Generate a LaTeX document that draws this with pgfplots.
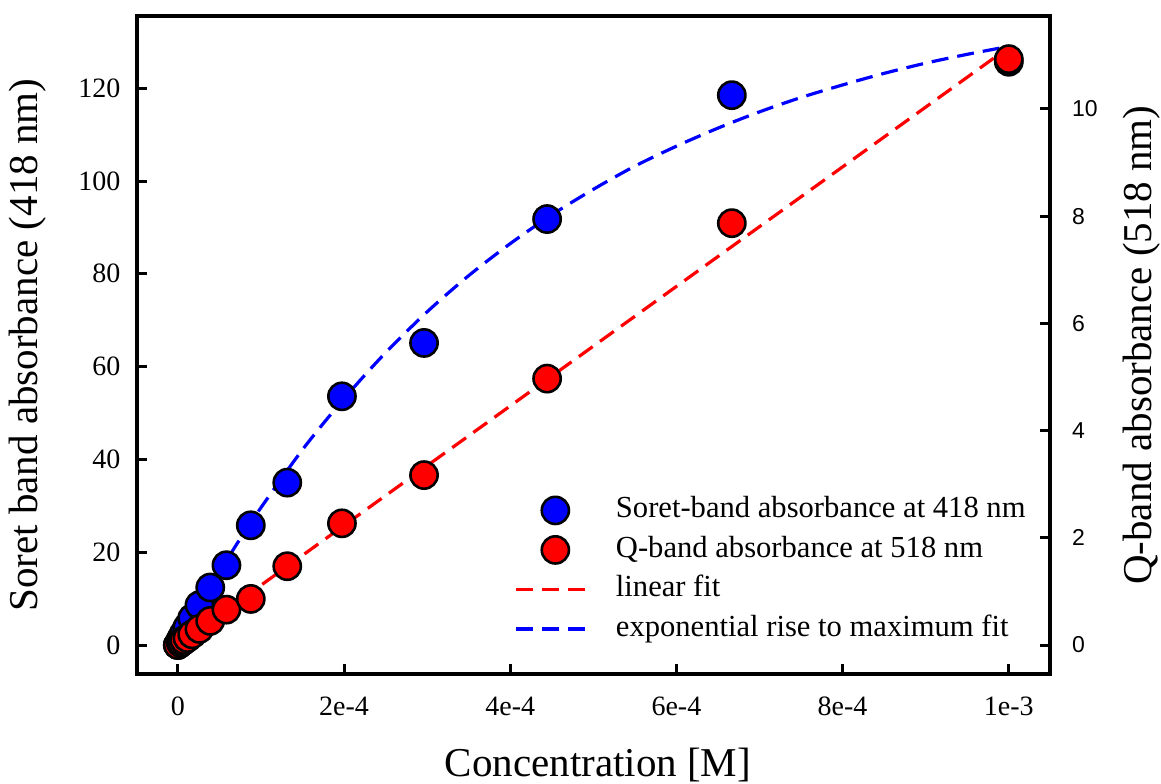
\documentclass[border=0pt]{standalone}
\usepackage{fontspec}
\setmainfont{Liberation Serif}
\newfontfamily\sansf{Liberation Sans}
\usepackage{pgfplots}
\usepackage{pgfplotstable}
\pgfplotsset{compat=1.18}

% Soret band absorbance (left axis)
\pgfplotstableread{
x y
0 0
3.4e-6 1.1
5.1e-6 1.7
7.7e-6 2.6
1.16e-5 3.9
1.73e-5 5.8
2.6e-5 8.6
3.9e-5 12.4
5.85e-5 17.2
8.78e-5 25.8
1.317e-4 35.0
1.975e-4 53.6
2.963e-4 65.1
4.444e-4 91.8
6.667e-4 118.5
1e-3 125.7
}\soret

% Q-band absorbance (right axis units)
\pgfplotstableread{
x q
0 0
3.4e-6 0.04
5.1e-6 0.06
7.7e-6 0.09
1.16e-5 0.13
1.73e-5 0.20
2.6e-5 0.30
3.9e-5 0.45
5.85e-5 0.66
8.78e-5 0.86
1.317e-4 1.47
1.975e-4 2.27
2.963e-4 3.17
4.444e-4 4.97
6.667e-4 7.87
1e-3 10.93
}\qband

% linear fit (right axis units)
\pgfplotstableread{
x q
0 0
1e-3 11.15
}\linfit

% exponential rise to maximum fit (left axis units)
\pgfplotstableread{
x y
0 0
1e-5 3.3
2.5e-5 8.1
5e-5 15.7
7.5e-5 22.9
1e-4 29.6
1.5e-4 42.1
2e-4 53.1
2.5e-4 63.0
3e-4 71.8
3.5e-4 79.6
4e-4 86.5
4.5e-4 92.7
5e-4 98.2
5.5e-4 103.2
6e-4 107.5
6.5e-4 111.4
7e-4 114.9
7.5e-4 118.0
8e-4 120.7
8.5e-4 123.2
9e-4 125.4
9.5e-4 127.3
1e-3 129.0
}\expfit

\def\qscale{11.552}

\begin{document}
\begin{tikzpicture}
\begin{axis}[name=ax,
  scale only axis, width=456.65pt, height=329.15pt,
  xmin=-4.95e-5, xmax=1.0496e-3, ymin=-6.31, ymax=135.56,
  axis line style={line width=2pt},
  tick align=inside, xtick pos=lower, ytick pos=left,
  major tick length=5pt,
  every tick/.style={line width=1.5pt, black},
  scaled x ticks=false,
  xtick={0,2e-4,4e-4,6e-4,8e-4,1e-3},
  xticklabels={0,2e-4,4e-4,6e-4,8e-4,1e-3},
  ytick={0,20,40,60,80,100,120},
  /pgf/number format/assume math mode=true,
  yticklabel style={font=\fontsize{14}{16}\selectfont, xshift=-4.6pt},
  xticklabel style={font=\fontsize{14}{16}\selectfont, yshift=-8pt},
  xlabel={Concentration [M]},
  ylabel={Soret band absorbance (418 nm)},
  every axis x label/.style={at={(axis description cs:0.505,-0.138)}, anchor=center, font=\fontsize{20.5}{24}\selectfont},
  every axis y label/.style={at={(axis description cs:-0.119,0.5)}, rotate=90, anchor=center, font=\fontsize{20.5}{24}\selectfont},
  legend image code/.code={\draw[mark repeat=2,mark phase=2,#1] plot coordinates {(0pt,0pt) (19.5pt,0pt) (35pt,0pt)};},
  legend style={draw=none, fill=none, at={(rel axis cs:0.4135,0.2716)}, anchor=north west,
    font=\fontsize{15.3}{18}\selectfont, inner sep=0pt, row sep=5.25pt,
    nodes={inner sep=0pt, text height=11pt, text depth=3.5pt},
    /tikz/every odd column/.append style={column sep=14pt}},
  legend cell align=left,
  clip=false,
]
\addplot[only marks, mark=*, mark size=6.8pt, mark options={fill=blue, draw=black, line width=1.3pt}]
  table[x=x, y=y] {\soret};
\addlegendentry{Soret-band absorbance at 418 nm}
\addplot[only marks, mark=*, mark size=6.8pt, mark options={fill=red, draw=black, line width=1.3pt}]
  table[x=x, y expr=\thisrow{q}*\qscale] {\qband};
\addlegendentry{Q-band absorbance at 518 nm}
\addplot[red, line width=1.6pt, dash pattern=on 8.5pt off 4.5pt, no marks]
  table[x=x, y expr=\thisrow{q}*\qscale] {\linfit};
\addlegendentry{linear fit}
\addplot[blue, line width=1.6pt, dash pattern=on 8.5pt off 4.5pt, no marks, smooth]
  table[x=x, y=y] {\expfit};
\addlegendentry{exponential rise to maximum fit}
\end{axis}
\begin{axis}[
  scale only axis, width=456.65pt, height=329.15pt,
  xmin=-4.95e-5, xmax=1.0496e-3, ymin=-0.5462, ymax=11.735,
  axis x line=none, axis y line*=right,
  axis line style={line width=2pt, -},
  tick align=inside, ytick pos=right,
  major tick length=5pt,
  every tick/.style={line width=1.5pt, black},
  ytick={0,2,4,6,8,10},
  /pgf/number format/assume math mode=true,
  yticklabel style={font=\sansf\fontsize{11.5}{13}\selectfont, xshift=7.5pt},
  ylabel={Q-band absorbance (518 nm)},
  every axis y label/.style={at={(axis description cs:1.1004,0.5)}, rotate=90, anchor=center, font=\fontsize{20.5}{24}\selectfont},
]
\end{axis}
\pgfresetboundingbox
\path ([shift={(-68.35pt,-54.35pt)}]ax.south west) rectangle ([shift={(55.5pt,8pt)}]ax.north east);
\end{tikzpicture}
\end{document}
